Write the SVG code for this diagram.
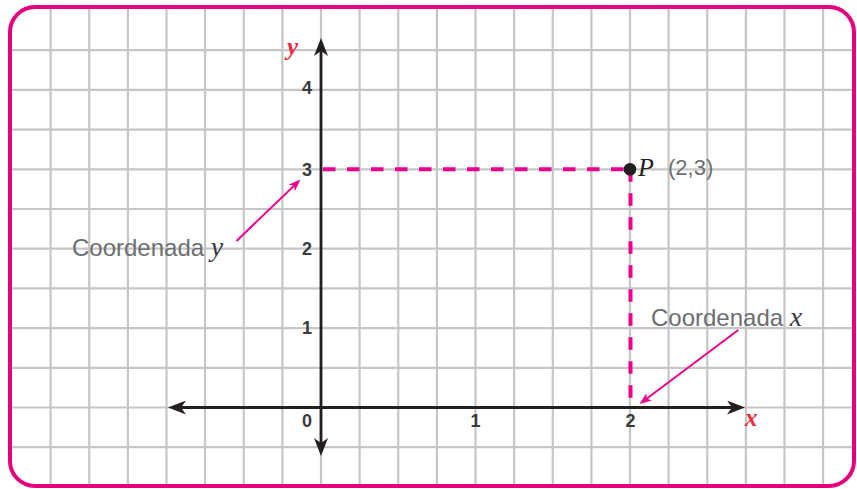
<svg xmlns="http://www.w3.org/2000/svg" width="857" height="489" viewBox="0 0 857 489">
  <style>
    .grid { stroke: #c6c6c8; stroke-width: 2.2; fill: none; }
    .axis { stroke: #231f20; stroke-width: 2.8; fill: none; }
    .dash { stroke: #ec008c; stroke-width: 4; stroke-dasharray: 12.5 11.5; fill: none; }
    .ptr { stroke: #ec008c; stroke-width: 2; fill: none; }
    .num { font-family: "Liberation Sans", Arial, sans-serif; font-weight: bold; font-size: 18px; fill: #3a3a3c; text-anchor: middle; }
    .lbl { font-family: "Liberation Sans", Arial, sans-serif; font-size: 24px; fill: #6d6e71; }
    .var { font-family: "Liberation Serif", "Times New Roman", serif; font-style: italic; font-size: 28px; fill: #3a3a3c; }
    .axvar { font-family: "Liberation Serif", "Times New Roman", serif; font-style: italic; font-weight: bold; font-size: 25px; fill: #ef2b3e; }
  </style>
  <defs>
    <marker id="ax" markerUnits="userSpaceOnUse" markerWidth="18" markerHeight="14" viewBox="0 0 18 14" refX="14" refY="7" orient="auto-start-reverse">
      <path d="M18,7 L0,0 L5,7 L0,14 Z" fill="#231f20"/>
    </marker>
    <marker id="pk" markerUnits="userSpaceOnUse" markerWidth="12" markerHeight="10" viewBox="0 0 12 10" refX="9" refY="5" orient="auto">
      <path d="M12,5 L0,0.5 L3,5 L0,9.5 Z" fill="#ec008c"/>
    </marker>
  </defs>

  <rect width="857" height="489" fill="#ffffff"/>

  <g id="grid" class="grid">
    <path d="M50.6,7V486 M89.25,7V486 M127.9,7V486 M166.5,7V486 M205.1,7V486 M243.75,7V486 M282.4,7V486 M321,7V486 M359.6,7V486 M398.25,7V486 M436.9,7V486 M475.5,7V486 M514.1,7V486 M552.75,7V486 M591.4,7V486 M630,7V486 M668.6,7V486 M707.25,7V486 M745.9,7V486 M784.5,7V486 M823.1,7V486"/>
    <path d="M10,50.2H854 M10,89.9H854 M10,129.6H854 M10,169.3H854 M10,209H854 M10,248.7H854 M10,288.4H854 M10,328.1H854 M10,367.8H854 M10,407.5H854 M10,447.2H854"/>
  </g>

  <g id="frame">
    <rect x="10" y="7" width="844" height="479" rx="25" ry="25" fill="none" stroke="#e6007e" stroke-width="4"/>
  </g>

  <g id="guides">
    <path class="dash" d="M323,169.3 H630"/>
    <path class="dash" d="M630.5,169.3 V407.5"/>
  </g>

  <g id="axes">
    <line class="axis" x1="172" y1="407.5" x2="741" y2="407.5" marker-start="url(#ax)" marker-end="url(#ax)"/>
    <line class="axis" x1="321" y1="452" x2="321" y2="42" marker-start="url(#ax)" marker-end="url(#ax)"/>
  </g>

  <g id="axis-labels">
    <text class="axvar" x="287" y="55">y</text>
    <text class="axvar" x="745" y="426">x</text>
    <text class="num" x="307" y="94">4</text>
    <text class="num" x="307" y="176">3</text>
    <text class="num" x="307" y="255">2</text>
    <text class="num" x="307" y="334">1</text>
    <text class="num" x="307" y="427">0</text>
    <text class="num" x="475.5" y="427">1</text>
    <text class="num" x="630.5" y="427">2</text>
  </g>

  <g id="point-P">
    <circle cx="630" cy="169.3" r="6.3" fill="#231f20"/>
    <text class="var" x="638" y="176" style="font-size:26px; fill:#231f20">P</text>
    <text class="lbl" x="668" y="175" style="font-size:22px">(2,3)</text>
  </g>

  <g id="label-y">
    <text class="lbl" x="72" y="256">Coordenada <tspan class="var">y</tspan></text>
  </g>

  <g id="label-x">
    <text class="lbl" x="651" y="326">Coordenada <tspan class="var">x</tspan></text>
  </g>

  <g id="connectors">
    <line class="ptr" x1="236.5" y1="241" x2="298.3" y2="181.6" marker-end="url(#pk)"/>
    <line class="ptr" x1="738.3" y1="330" x2="641.9" y2="402.2" marker-end="url(#pk)"/>
  </g>
</svg>
